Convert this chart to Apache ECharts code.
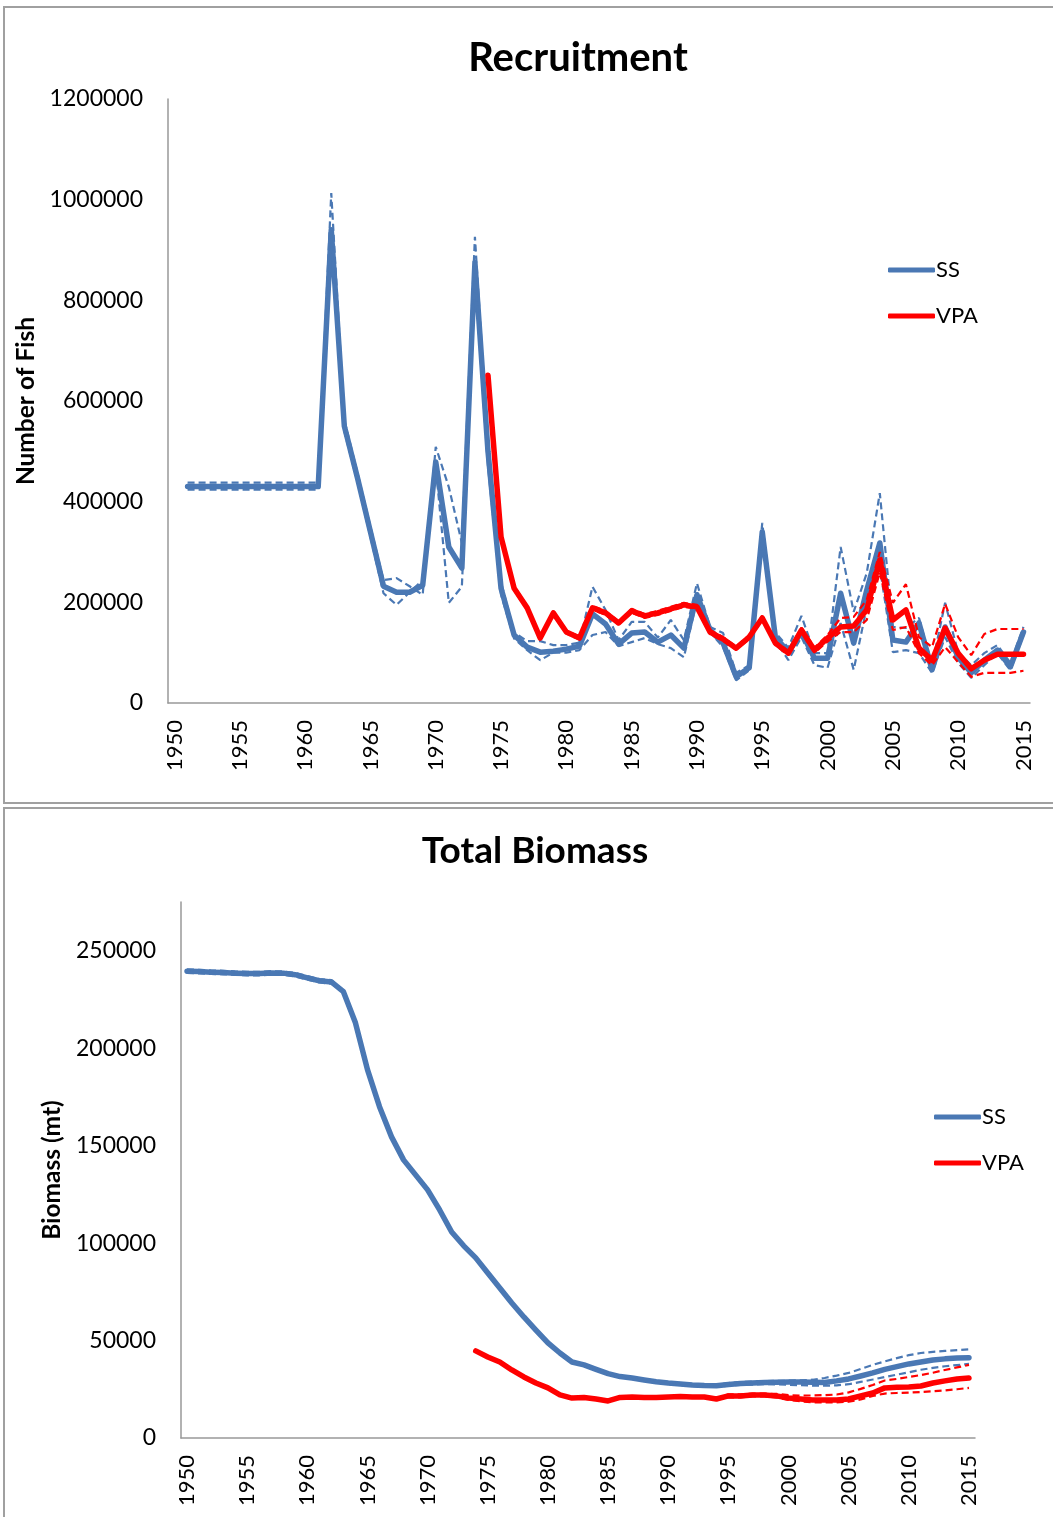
<!DOCTYPE html>
<html>
<head>
<meta charset="utf-8">
<script src="https://cdn.jsdelivr.net/npm/echarts@6/dist/echarts.min.js"></script>
<style>
html,body{margin:0;padding:0;background:#fff;}
#c{width:1053px;height:1517px;}
</style>
</head>
<body>
<div id="c"></div>
<script>
const years = ['1950','1951','1952','1953','1954','1955','1956','1957','1958','1959','1960','1961','1962','1963','1964','1965','1966','1967','1968','1969','1970','1971','1972','1973','1974','1975','1976','1977','1978','1979','1980','1981','1982','1983','1984','1985','1986','1987','1988','1989','1990','1991','1992','1993','1994','1995','1996','1997','1998','1999','2000','2001','2002','2003','2004','2005','2006','2007','2008','2009','2010','2011','2012','2013','2014','2015'];

// Recruitment (Number of Fish)
const recSS = [null,430000,430000,430000,430000,430000,430000,430000,430000,430000,430000,430000,
  940000,550000,448000,340000,232000,220000,220000,234000,479000,310000,268000,875000,500000,228000,
  135000,111000,101000,103000,107000,113000,177000,157000,117000,139000,141000,121000,135000,109000,
  215000,145000,119000,52000,70000,340000,131000,101000,141000,89000,89000,218000,119000,224000,318000,
  125000,121000,159000,66000,151000,91000,60000,85000,105000,72000,141000];
const recSSUpper = [null,438000,438000,438000,438000,438000,438000,438000,438000,438000,438000,438000,
  1013000,562000,458000,350000,244000,248000,232000,215000,509000,429000,318000,926000,510000,240000,
  140000,123000,123000,115000,115000,120000,231000,185000,125000,161000,161000,130000,165000,125000,
  238000,151000,139000,60000,75000,358000,140000,110000,173000,99000,99000,310000,181000,258000,417000,
  151000,149000,169000,75000,199000,100000,75000,99000,115000,80000,151000];
const recSSLower = [null,424000,424000,424000,424000,424000,424000,424000,424000,424000,424000,424000,
  910000,540000,440000,330000,218000,195000,220000,244000,470000,199000,231000,850000,470000,215000,
  128000,105000,85000,100000,100000,105000,135000,141000,113000,121000,129000,117000,109000,91000,
  205000,141000,111000,45000,65000,330000,125000,85000,131000,75000,70000,159000,66000,190000,270000,
  101000,105000,99000,60000,131000,80000,50000,75000,99000,65000,135000];
const recVPA = [null,null,null,null,null,null,null,null,null,null,null,null,null,null,null,null,null,null,null,null,null,null,null,null,
  651000,330000,228000,189000,129000,179000,141000,129000,189000,179000,159000,183000,173000,179000,187000,195000,
  191000,141000,127000,109000,131000,169000,119000,99000,145000,105000,129000,151000,153000,185000,284000,
  165000,185000,109000,85000,149000,99000,68000,85000,97000,97000,97000];
const recVPAUpper = [null,null,null,null,null,null,null,null,null,null,null,null,null,null,null,null,null,null,null,null,null,null,null,null,
  655000,335000,232000,193000,132000,183000,144000,132000,193000,183000,162000,187000,177000,183000,191000,199000,
  195000,145000,131000,112000,135000,173000,123000,103000,150000,110000,135000,169000,171000,205000,300000,
  199000,236000,131000,111000,197000,131000,95000,137000,147000,147000,147000];
const recVPALower = [null,null,null,null,null,null,null,null,null,null,null,null,null,null,null,null,null,null,null,null,null,null,null,null,
  647000,325000,224000,185000,126000,175000,138000,126000,185000,175000,156000,179000,169000,175000,183000,191000,
  187000,137000,123000,106000,127000,165000,115000,95000,140000,100000,122000,141000,141000,165000,260000,
  145000,151000,99000,75000,111000,81000,52000,60000,60000,60000,64000];

// Total Biomass (mt)
const bioSS = [239500,239300,239000,238800,238500,238300,238300,238600,238500,237700,236100,234600,234000,229000,213000,
  189000,170000,154500,142700,135000,127300,117000,105700,98600,92400,84700,77000,69300,62100,55400,
  48800,43600,39000,37500,35200,33000,31500,30800,29800,28900,28200,27700,27200,26900,26800,
  27500,28000,28200,28500,28600,28700,28700,28600,28500,29300,30300,31800,33400,35200,36600,
  38000,39000,40000,40600,41000,41200];
const bioSSUpper = [240400,240200,239900,239700,239400,239200,239200,239500,239400,238600,237000,235500,234900,229400,213400,
  189400,170400,154900,143100,135400,127700,117400,106100,99000,92800,85100,77400,69700,62500,55800,
  49200,44000,39400,37900,35600,33400,31900,31200,30200,29300,28700,28200,27700,27500,27400,
  28200,28700,29000,29200,29300,29400,29600,29900,30800,32000,33400,35400,37500,39300,41000,
  42500,43600,44200,44700,45100,45500];
const bioSSLower = [238600,238400,238100,237900,237600,237400,237400,237700,237600,236800,235200,233700,233100,228600,212600,
  188600,169600,154100,142300,134600,126900,116600,105300,98200,92000,84300,76600,68900,61700,55000,
  48400,43200,38600,37100,34800,32600,31100,30400,29400,28500,27700,27200,26700,26300,26200,
  26800,27300,27400,27600,27500,27300,27100,26900,26800,27000,27600,28800,30000,31300,32500,
  33700,35000,36000,36800,37400,38000];
const bioVPA = [null,null,null,null,null,null,null,null,null,null,null,null,null,null,null,null,null,null,null,null,null,null,null,null,
  44700,41600,39000,34900,31300,28200,25700,22100,20500,20800,20000,19000,20800,21000,20800,20800,
  21000,21300,21000,21000,20000,21600,21600,22100,22100,21600,20500,20000,19500,19500,19500,
  20000,21600,23100,25700,26000,26200,26700,28200,29300,30300,30800];
const bioVPAUpper = [null,null,null,null,null,null,null,null,null,null,null,null,null,null,null,null,null,null,null,null,null,null,null,null,
  45000,41900,39300,35200,31600,28500,26000,22400,20800,21100,20300,19300,21100,21300,21100,21100,
  21300,21600,21300,21300,20300,22400,22400,22800,22800,22600,22000,21800,21800,22000,22300,
  23400,25200,27200,29500,30300,31300,32300,33500,34900,36200,37500];
const bioVPALower = [null,null,null,null,null,null,null,null,null,null,null,null,null,null,null,null,null,null,null,null,null,null,null,null,
  44400,41300,38700,34600,31000,27900,25400,21800,20200,20500,19700,18700,20500,20700,20500,20500,
  20700,21000,20700,20700,19700,20800,20800,21400,21400,20800,19500,18800,18300,18300,18300,
  18600,19800,21600,22800,23100,23300,23600,24000,24400,25000,25700];

const recTicks = [0,200000,400000,600000,800000,1000000,1200000];
const bioTicks = [0,50000,100000,150000,200000,250000];

const BLUE = '#4A78B4';
const RED = '#FF0000';
const FONT = 'Lato';

function mainLine(name, data, color, axisIdx) {
  return {name, type:'line', data, xAxisIndex:axisIdx, yAxisIndex:axisIdx, showSymbol:false, symbol:'none',
    lineStyle:{color, width:5.5, cap:'round', join:'round'}, itemStyle:{color}, connectNulls:false, silent:true};
}
function bandLine(name, data, color, axisIdx) {
  return {name, type:'line', data, xAxisIndex:axisIdx, yAxisIndex:axisIdx, showSymbol:false, symbol:'none',
    lineStyle:{color, width:2.2, type:[7,4]}, itemStyle:{color}, connectNulls:false, silent:true};
}

const axisLineStyle = {show:true, lineStyle:{color:'#999', width:1.5}};

function xAxisFor(gi) {
  return {type:'category', gridIndex:gi, data:years, boundaryGap:true,
    axisLine:axisLineStyle, axisTick:{show:false},
    axisLabel:{interval:4, rotate:90, margin:17, fontFamily:FONT, fontSize:22, color:'#000'},
    splitLine:{show:false}};
}
function yAxisFor(gi, ticks, max, name, nameGap) {
  const step = ticks[1]-ticks[0];
  return {type:'value', gridIndex:gi, min:0, max, interval:step,
    axisLine:axisLineStyle, axisTick:{show:false}, splitLine:{show:false},
    axisLabel:{margin:25, fontFamily:FONT, fontSize:23, color:'#000',
      formatter:(v)=> ticks.indexOf(v) >= 0 ? String(v) : ''},
    name, nameLocation:'middle', nameRotate:90, nameGap,
    nameTextStyle:{fontFamily:FONT, fontSize:24.5, fontWeight:'bold', color:'#000'}};
}

const chart = echarts.init(document.getElementById('c'), null, {renderer:'canvas'});
chart.setOption({
  animation:false,
  backgroundColor:'#fff',
  graphic:[
    {type:'rect', shape:{x:4, y:7, width:1070, height:796}, style:{fill:'none', stroke:'#a0a0a0', lineWidth:2}, silent:true, z:-10},
    {type:'rect', shape:{x:4, y:808, width:1070, height:730}, style:{fill:'none', stroke:'#a0a0a0', lineWidth:2}, silent:true, z:-10}
  ],
  title:[
    {text:'Recruitment', left:578, top:38, textAlign:'center', padding:0,
      textStyle:{fontFamily:FONT, fontSize:40, fontWeight:'bold', color:'#000'}},
    {text:'Total Biomass', left:535, top:833, textAlign:'center', padding:0,
      textStyle:{fontFamily:FONT, fontSize:37, fontWeight:'bold', color:'#000'}}
  ],
  legend:[
    {data:['SS','VPA'], orient:'vertical', left:888, top:259, itemWidth:47, itemHeight:5, itemGap:24,
      icon:'roundRect', padding:0, textStyle:{fontFamily:FONT, fontSize:22, color:'#000', lineHeight:22, padding:[0,0,0,-4]}},
    {data:['SS','VPA'], orient:'vertical', left:934, top:1106, itemWidth:47, itemHeight:5, itemGap:24,
      icon:'roundRect', padding:0, textStyle:{fontFamily:FONT, fontSize:22, color:'#000', lineHeight:22, padding:[0,0,0,-4]}}
  ],
  grid:[
    {left:168, top:99, width:862, height:604, containLabel:false},
    {left:181, top:902, width:794, height:536, containLabel:false}
  ],
  xAxis:[xAxisFor(0), xAxisFor(1)],
  yAxis:[yAxisFor(0, recTicks, 1200000, 'Number of Fish', 128), yAxisFor(1, bioTicks, 275000, 'Biomass (mt)', 116)],
  series:[
    mainLine('SS', recSS, BLUE, 0),
    bandLine('SS upper', recSSUpper, BLUE, 0),
    bandLine('SS lower', recSSLower, BLUE, 0),
    mainLine('VPA', recVPA, RED, 0),
    bandLine('VPA upper', recVPAUpper, RED, 0),
    bandLine('VPA lower', recVPALower, RED, 0),
    mainLine('SS', bioSS, BLUE, 1),
    bandLine('SS upper', bioSSUpper, BLUE, 1),
    bandLine('SS lower', bioSSLower, BLUE, 1),
    mainLine('VPA', bioVPA, RED, 1),
    bandLine('VPA upper', bioVPAUpper, RED, 1),
    bandLine('VPA lower', bioVPALower, RED, 1)
  ]
});
</script>
</body>
</html>
